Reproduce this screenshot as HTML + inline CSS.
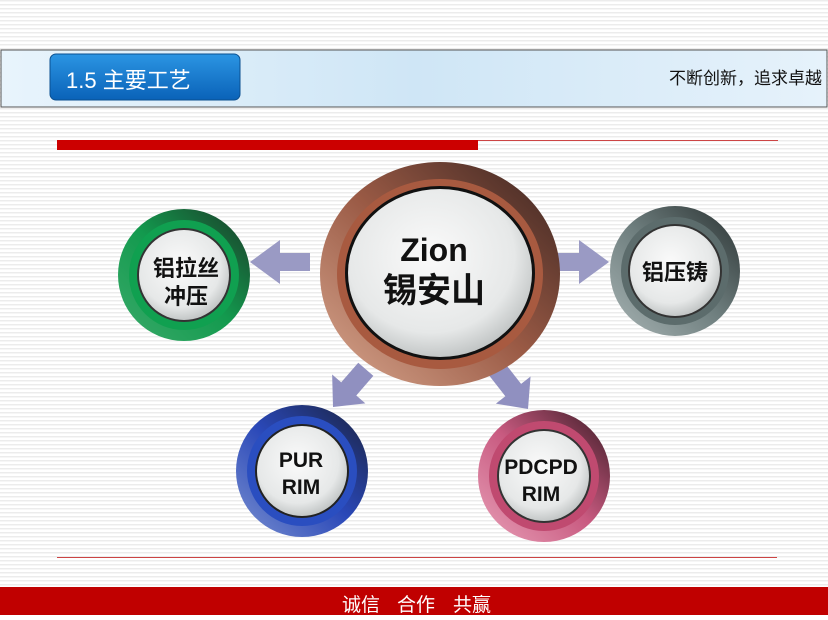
<!DOCTYPE html>
<html><head><meta charset="utf-8"><style>
body{margin:0;width:828px;height:615px;overflow:hidden;background:#fff;font-family:"Liberation Sans","Noto Sans CJK SC",sans-serif}
</style></head><body>
<svg width="828" height="615" viewBox="0 0 828 615" xmlns="http://www.w3.org/2000/svg">
<defs>
<pattern id="ln" width="4" height="4" patternUnits="userSpaceOnUse"><rect width="4" height="4" fill="#fff"/><rect y="0" width="4" height="1.5" fill="#ececec"/></pattern>
<linearGradient id="hdr" x1="0" x2="1"><stop offset="0" stop-color="#e8f4fc"/><stop offset=".5" stop-color="#cfe6f6"/><stop offset="1" stop-color="#e6f2fb"/></linearGradient>
<linearGradient id="btn" x1="0" y1="0" x2="0" y2="1"><stop offset="0" stop-color="#2b95e3"/><stop offset="1" stop-color="#0a62b8"/></linearGradient>
<radialGradient id="disc" cx=".45" cy=".4" r=".65"><stop offset="0" stop-color="#fafafa"/><stop offset=".7" stop-color="#e6e8e8"/><stop offset="1" stop-color="#b8bcbc"/></radialGradient>
<linearGradient id="brown" x1="0" y1="1" x2="1" y2="0"><stop offset="0" stop-color="#d9a890"/><stop offset=".5" stop-color="#9a5a45"/><stop offset="1" stop-color="#3a2420"/></linearGradient>
<linearGradient id="green" x1="0" y1="1" x2="1" y2="0"><stop offset="0" stop-color="#3aaa6a"/><stop offset=".5" stop-color="#139a4e"/><stop offset="1" stop-color="#1b3a28"/></linearGradient>
<linearGradient id="gray" x1="0" y1="1" x2="1" y2="0"><stop offset="0" stop-color="#a8b4b4"/><stop offset=".5" stop-color="#6e7e7e"/><stop offset="1" stop-color="#2a3232"/></linearGradient>
<linearGradient id="blue" x1="0" y1="1" x2="1" y2="0"><stop offset="0" stop-color="#7a90d0"/><stop offset=".5" stop-color="#2a48b8"/><stop offset="1" stop-color="#1a2240"/></linearGradient>
<linearGradient id="pink" x1="0" y1="1" x2="1" y2="0"><stop offset="0" stop-color="#e8a0b8"/><stop offset=".5" stop-color="#c85a80"/><stop offset="1" stop-color="#3a1a24"/></linearGradient>
</defs>
<rect width="828" height="615" fill="url(#ln)"/>
<rect x="1" y="50" width="826" height="57" fill="url(#hdr)" stroke="#555" stroke-width="1"/>
<rect x="50" y="54" width="190" height="46" rx="6" fill="url(#btn)" stroke="#0a4f90"/>
<text x="66" y="88" font-size="22" fill="#fff">1.5 主要工艺</text>
<text x="822" y="84" font-size="17" fill="#111" text-anchor="end">不断创新，追求卓越</text>
<rect x="57" y="140" width="421" height="10" fill="#cc0000"/>
<line x1="478" y1="140.5" x2="778" y2="140.5" stroke="#c44" stroke-width="1"/>
<line x1="57" y1="557.5" x2="777" y2="557.5" stroke="#c44" stroke-width="1"/>
<rect x="0" y="587" width="828" height="28" fill="#c00000"/>
<text x="342" y="611" font-size="19" fill="#fff">诚信</text>
<text x="397" y="611" font-size="19" fill="#fff">合作</text>
<text x="453" y="611" font-size="19" fill="#fff">共赢</text>
<!-- arrows -->
<polygon points="609,262 579,240 579,253 549,253 549,271 579,271 579,284" fill="#9a9ac4"/>
<polygon points="250,262 280,240 280,253 310,253 310,271 280,271 280,284" fill="#9a9ac4"/>
<g transform="translate(333,407) rotate(131)"><polygon points="0,0 -24,-22 -24,-10 -50,-10 -50,10 -24,10 -24,22" fill="#9090c0"/></g>
<g transform="translate(528,409) rotate(52)"><polygon points="0,0 -24,-22 -24,-10 -50,-10 -50,10 -24,10 -24,22" fill="#9090c0"/></g>
<!-- center -->
<ellipse cx="440" cy="274" rx="120" ry="112" fill="url(#brown)"/>
<ellipse cx="440" cy="274" rx="103" ry="95" fill="#a85a40"/>
<ellipse cx="440" cy="273" rx="95" ry="87" fill="#111"/>
<ellipse cx="440" cy="273" rx="92" ry="84" fill="url(#disc)"/>
<text x="434" y="261" font-size="32" font-weight="bold" text-anchor="middle" fill="#111">Zion</text>
<text x="434" y="302" font-size="34" font-weight="bold" text-anchor="middle" fill="#111">锡安山</text>
<!-- small circles -->
<g>
<circle cx="184" cy="275" r="66" fill="url(#green)"/><circle cx="184" cy="275" r="55" fill="#10a050"/><circle cx="184" cy="275" r="47" fill="#333"/><circle cx="184" cy="275" r="45" fill="url(#disc)"/>
<text x="186" y="276" font-size="22" font-weight="bold" text-anchor="middle" fill="#111">铝拉丝</text>
<text x="186" y="304" font-size="22" font-weight="bold" text-anchor="middle" fill="#111">冲压</text>
</g>
<g>
<circle cx="675" cy="271" r="65" fill="url(#gray)"/><circle cx="675" cy="271" r="54" fill="#5c6c6c"/><circle cx="675" cy="271" r="47" fill="#333"/><circle cx="675" cy="271" r="45" fill="url(#disc)"/>
<text x="675" y="280" font-size="22" font-weight="bold" text-anchor="middle" fill="#111">铝压铸</text>
</g>
<g>
<circle cx="302" cy="471" r="66" fill="url(#blue)"/><circle cx="302" cy="471" r="55" fill="#2a4ec0"/><circle cx="302" cy="471" r="47" fill="#222"/><circle cx="302" cy="471" r="45" fill="url(#disc)"/>
<text x="301" y="467" font-size="21" font-weight="bold" text-anchor="middle" fill="#111">PUR</text>
<text x="301" y="494" font-size="21" font-weight="bold" text-anchor="middle" fill="#111">RIM</text>
</g>
<g>
<circle cx="544" cy="476" r="66" fill="url(#pink)"/><circle cx="544" cy="476" r="55" fill="#c04a70"/><circle cx="544" cy="476" r="47" fill="#333"/><circle cx="544" cy="476" r="45" fill="url(#disc)"/>
<text x="541" y="474" font-size="21" font-weight="bold" text-anchor="middle" fill="#111">PDCPD</text>
<text x="541" y="501" font-size="21" font-weight="bold" text-anchor="middle" fill="#111">RIM</text>
</g>
</svg>
</body></html>
